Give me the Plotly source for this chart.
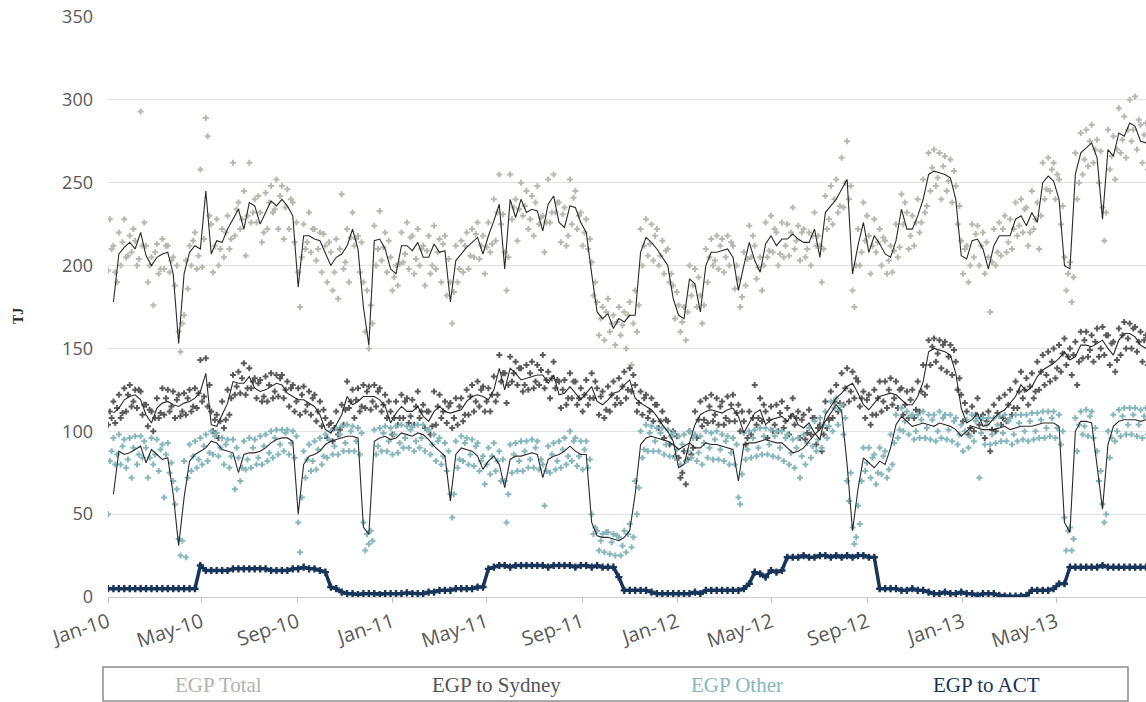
import pandas as pd
import plotly.graph_objects as go

# ---------------- data ----------------
START, END, N = "2010-01-01", "2013-08-24", 192

total_line = [
    None, 178, 207, 211, 214, 210, 220, 206, 200, 205,
    207, 208, 195, 153, 195, 208, 212, 210, 245, 207,
    215, 214, 222, 228, 234, 222, 238, 236, 225, 232,
    239, 236, 240, 236, 230, 187, 218, 218, 216, 215,
    208, 200, 205, 207, 212, 222, 210, 175, 152, 215,
    216, 210, 198, 195, 212, 212, 209, 214, 205, 205,
    213, 208, 209, 178, 203, 207, 211, 214, 217, 207,
    218, 227, 237, 198, 240, 229, 240, 232, 234, 233,
    221, 237, 242, 226, 223, 236, 235, 226, 220, 195,
    172, 168, 171, 162, 168, 166, 170, 170, 208, 217,
    214, 210, 205, 200, 180, 170, 168, 192, 189, 172,
    200, 208, 208, 209, 210, 205, 185, 200, 214, 203,
    196, 213, 218, 212, 216, 216, 219, 216, 214, 214,
    222, 205, 232, 236, 240, 246, 252, 195, 212, 226,
    208, 218, 213, 207, 205, 215, 234, 222, 222, 230,
    240, 255, 257, 256, 255, 253, 240, 206, 204, 215,
    216, 210, 198, 212, 218, 218, 218, 228, 230, 224,
    232, 226, 250, 254, 251, 240, 200, 198, 255, 268,
    271, 274, 265, 228, 270, 266, 280, 278, 286, 284,
    275, 274]
total_pts_a = [
    197, 212, 220, 228, 218, 215, 293, 212, 205, 213,
    216, 212, 205, 160, 170, 212, 220, 258, 289, 225,
    228, 222, 230, 262, 238, 245, 262, 240, 232, 244,
    248, 252, 248, 246, 238, 196, 225, 232, 222, 220,
    212, 208, 216, 243, 222, 232, 218, 190, 150, 224,
    233, 220, 205, 200, 220, 226, 218, 222, 212, 218,
    224, 216, 218, 190, 212, 215, 220, 222, 226, 218,
    226, 240, 255, 208, 255, 240, 250, 245, 242, 248,
    230, 252, 255, 238, 235, 252, 245, 232, 228, 202,
    178, 175, 180, 170, 175, 172, 178, 185, 222, 228,
    225, 222, 215, 210, 188, 176, 175, 200, 198, 182,
    210, 216, 218, 216, 218, 212, 192, 208, 224, 212,
    205, 226, 230, 220, 226, 225, 235, 224, 222, 220,
    232, 212, 242, 248, 252, 265, 275, 185, 222, 238,
    218, 228, 222, 215, 212, 225, 243, 232, 230, 240,
    252, 268, 270, 268, 266, 264, 248, 215, 212, 225,
    224, 220, 205, 222, 226, 230, 228, 238, 240, 235,
    245, 238, 262, 265, 262, 252, 205, 202, 268, 280,
    282, 285, 276, 235, 282, 278, 295, 290, 300, 302,
    285, 286]
total_pts_b = [
    228, 196, 200, 205, 208, 200, 212, 190, 176, 195,
    198, 196, 188, 148, 203, 200, 198, 199, 278, 196,
    200, 205, 210, 218, 222, 206, 226, 226, 214, 222,
    232, 222, 216, 222, 214, 175, 210, 208, 203, 196,
    190, 185, 180, 198, 190, 212, 196, 160, 176, 200,
    203, 196, 185, 188, 202, 198, 195, 200, 188, 195,
    198, 190, 182, 165, 190, 196, 198, 205, 204, 195,
    208, 215, 225, 185, 228, 215, 230, 222, 218, 225,
    208, 226, 232, 214, 212, 225, 222, 212, 210, 182,
    158, 155, 160, 152, 158, 150, 140, 160, 200, 206,
    203, 200, 195, 190, 168, 160, 155, 182, 175, 165,
    190, 200, 198, 196, 200, 186, 175, 188, 205, 192,
    185, 205, 208, 200, 205, 206, 210, 203, 205, 200,
    212, 190, 222, 225, 232, 235, 240, 175, 200, 215,
    195, 208, 200, 195, 196, 205, 225, 210, 212, 220,
    232, 245, 248, 240, 245, 238, 225, 195, 190, 205,
    200, 195, 172, 200, 206, 208, 210, 218, 220, 212,
    222, 210, 240, 245, 240, 225, 185, 178, 240, 255,
    260, 262, 250, 215, 258, 252, 268, 265, 275, 270,
    262, 258]
total_pts_c = [
    210, 190, 214, 206, 222, 204, 226, 200, 208, 198,
    212, 203, 200, 165, 186, 215, 206, 216, 230, 212,
    210, 220, 216, 234, 228, 230, 232, 242, 220, 238,
    234, 242, 235, 240, 226, 205, 214, 222, 210, 219,
    214, 196, 210, 202, 217, 216, 214, 185, 165, 210,
    211, 215, 193, 201, 207, 217, 204, 210, 209, 200,
    208, 213, 204, 184, 198, 212, 206, 219, 212, 211,
    213, 232, 231, 205, 235, 234, 236, 228, 238, 229,
    226, 232, 238, 231, 218, 241, 230, 220, 216, 190,
    168, 172, 165, 166, 164, 170, 165, 176, 212, 213,
    218, 206, 209, 195, 184, 166, 172, 188, 193, 176,
    205, 203, 212, 205, 214, 200, 181, 204, 218, 199,
    200, 209, 222, 207, 212, 220, 215, 220, 210, 218,
    218, 210, 228, 240, 236, 250, 248, 200, 208, 230,
    212, 214, 217, 203, 209, 211, 238, 218, 226, 226,
    236, 259, 253, 260, 251, 257, 236, 210, 200, 219,
    212, 214, 202, 208, 222, 214, 222, 224, 234, 220,
    228, 230, 246, 258, 255, 236, 195, 193, 250, 264,
    275, 270, 269, 232, 266, 270, 276, 282, 282, 288,
    279, 270]

sydney_line = [
    None, 111, 114, 119, 121, 122, 119, 110, 105, 114,
    117, 118, 116, 115, 117, 118, 120, 124, 135, 104,
    103, 110, 117, 130, 129, 129, 133, 126, 124, 125,
    127, 129, 128, 123, 121, 119, 119, 117, 115, 110,
    101, 99, 104, 110, 121, 116, 118, 121, 121, 121,
    119, 115, 105, 111, 115, 112, 112, 115, 109, 106,
    112, 115, 112, 111, 112, 113, 118, 121, 122, 121,
    119, 125, 138, 125, 138, 135, 131, 132, 133, 134,
    134, 129, 134, 122, 123, 127, 123, 119, 123, 127,
    118, 116, 119, 123, 124, 128, 131, 120, 117, 115,
    113, 109, 104, 100, 94, 78, 80, 93, 104, 110,
    112, 113, 112, 111, 113, 114, 109, 99, 105, 111,
    113, 104, 107, 108, 109, 106, 111, 104, 102, 105,
    99, 95, 110, 115, 120, 123, 127, 129, 123, 116,
    113, 117, 121, 122, 123, 122, 119, 116, 116, 121,
    130, 148, 150, 149, 148, 146, 135, 114, 105, 107,
    111, 103, 104, 108, 111, 113, 117, 121, 128, 124,
    127, 133, 137, 139, 141, 144, 148, 143, 145, 152,
    152, 151, 153, 155, 150, 146, 155, 159, 159, 157,
    152, 150]
sydney_pts_a = [
    104, 118, 122, 126, 128, 125, 124, 116, 112, 120,
    126, 125, 124, 122, 123, 125, 126, 143, 144, 112,
    110, 118, 125, 134, 136, 141, 138, 132, 131, 133,
    135, 134, 134, 130, 128, 126, 127, 124, 122, 118,
    108, 105, 112, 116, 130, 125, 126, 128, 127, 128,
    126, 122, 112, 118, 122, 120, 119, 124, 116, 112,
    124, 122, 118, 117, 120, 120, 125, 128, 130, 127,
    126, 133, 146, 135, 145, 142, 138, 140, 142, 140,
    146, 136, 142, 130, 131, 135, 130, 126, 131, 135,
    126, 124, 127, 130, 132, 136, 138, 128, 124, 122,
    120, 116, 112, 106, 100, 84, 88, 100, 112, 118,
    120, 122, 120, 118, 121, 122, 116, 106, 112, 128,
    120, 112, 115, 116, 118, 114, 120, 112, 110, 113,
    108, 104, 118, 124, 128, 135, 138, 136, 130, 124,
    122, 125, 130, 130, 132, 130, 126, 124, 125, 130,
    140, 155, 156, 155, 154, 152, 142, 122, 112, 115,
    120, 110, 112, 116, 120, 122, 125, 130, 136, 132,
    135, 142, 146, 148, 150, 152, 156, 150, 154, 160,
    160, 158, 162, 163, 158, 154, 162, 166, 165, 163,
    160, 158]
sydney_pts_b = [
    112, 105, 108, 112, 115, 114, 110, 103, 100, 108,
    110, 112, 108, 109, 110, 112, 114, 118, 115, 100,
    96, 102, 110, 122, 123, 122, 126, 120, 118, 118,
    120, 121, 120, 115, 112, 110, 112, 110, 106, 103,
    96, 94, 98, 104, 114, 108, 112, 114, 113, 115,
    112, 108, 98, 104, 108, 105, 104, 108, 102, 98,
    104, 108, 105, 102, 104, 106, 110, 112, 115, 112,
    112, 118, 130, 117, 130, 128, 124, 125, 126, 128,
    126, 120, 126, 114, 116, 120, 116, 112, 116, 120,
    110, 108, 112, 116, 117, 120, 124, 112, 110, 108,
    106, 102, 96, 92, 85, 72, 68, 86, 96, 103,
    105, 106, 104, 104, 106, 106, 100, 92, 98, 104,
    106, 96, 100, 100, 102, 98, 104, 96, 95, 98,
    92, 88, 102, 108, 112, 116, 118, 120, 115, 108,
    104, 110, 112, 114, 116, 114, 110, 108, 108, 112,
    122, 140, 142, 138, 136, 134, 125, 106, 98, 100,
    104, 96, 88, 100, 104, 106, 110, 114, 120, 116,
    120, 125, 128, 130, 132, 136, 140, 134, 128, 144,
    145, 142, 145, 146, 140, 136, 146, 150, 150, 148,
    142, 140]
sydney_pts_c = [
    108, 114, 111, 122, 118, 125, 116, 113, 108, 111,
    120, 115, 119, 112, 120, 115, 123, 121, 128, 107,
    106, 107, 120, 127, 132, 126, 130, 129, 121, 128,
    124, 132, 125, 126, 118, 122, 116, 120, 112, 113,
    104, 102, 101, 113, 118, 119, 115, 124, 118, 124,
    116, 118, 108, 108, 118, 109, 115, 112, 112, 103,
    115, 112, 115, 108, 115, 110, 121, 118, 125, 118,
    122, 122, 135, 128, 135, 138, 128, 135, 130, 137,
    131, 132, 131, 125, 120, 130, 120, 122, 120, 130,
    121, 113, 122, 120, 127, 125, 134, 117, 120, 112,
    116, 106, 107, 97, 97, 75, 83, 90, 107, 107,
    115, 110, 115, 108, 116, 111, 112, 96, 108, 108,
    116, 107, 104, 111, 106, 109, 108, 107, 99, 108,
    102, 98, 107, 118, 117, 126, 124, 132, 120, 119,
    110, 120, 118, 125, 120, 125, 116, 119, 113, 124,
    127, 151, 147, 152, 145, 149, 132, 117, 102, 110,
    108, 106, 101, 111, 108, 116, 114, 124, 125, 127,
    124, 136, 134, 142, 138, 147, 145, 146, 142, 155,
    149, 154, 150, 158, 153, 143, 158, 156, 162, 154,
    155, 147]

other_line = [
    None, 62, 88, 86, 87, 89, 91, 81, 89, 86,
    83, 84, 62, 31, 60, 82, 86, 88, 90, 94,
    93, 89, 88, 87, 75, 86, 87, 87, 88, 90,
    93, 95, 96, 96, 94, 50, 80, 85, 86, 88,
    92, 94, 95, 96, 97, 97, 96, 42, 38, 94,
    96, 97, 95, 96, 99, 98, 97, 99, 98, 95,
    91, 88, 85, 58, 86, 90, 89, 88, 85, 77,
    82, 85, 80, 66, 83, 85, 85, 86, 87, 86,
    72, 83, 85, 86, 88, 91, 88, 86, 86, 45,
    37, 36, 36, 35, 34, 36, 40, 62, 92, 96,
    97, 96, 95, 94, 92, 89, 91, 93, 90, 90,
    93, 92, 92, 91, 90, 89, 70, 92, 93, 93,
    94, 95, 94, 93, 93, 90, 87, 88, 90, 94,
    98, 101, 106, 111, 116, 112, 80, 40, 65, 84,
    81, 78, 82, 80, 90, 104, 109, 106, 103, 104,
    105, 104, 103, 105, 104, 103, 101, 97, 100, 103,
    102, 101, 101, 101, 102, 103, 101, 102, 103, 103,
    103, 104, 105, 105, 105, 103, 45, 39, 100, 106,
    106, 105, 80, 53, 92, 103, 106, 107, 107, 107,
    106, 107]
other_pts_a = [
    50, 96, 98, 95, 96, 97, 97, 90, 96, 95,
    92, 93, 70, 35, 82, 92, 94, 96, 98, 100,
    99, 96, 95, 95, 84, 94, 96, 95, 97, 98,
    100, 101, 101, 101, 100, 45, 88, 92, 94, 96,
    98, 100, 102, 103, 104, 103, 102, 45, 32, 101,
    102, 103, 102, 103, 104, 103, 103, 104, 104, 101,
    98, 96, 93, 62, 94, 97, 96, 95, 93, 85,
    90, 93, 88, 70, 92, 93, 94, 94, 95, 94,
    80, 91, 93, 94, 96, 100, 96, 94, 94, 50,
    40, 38, 39, 38, 36, 40, 44, 70, 100, 104,
    103, 102, 102, 101, 99, 97, 98, 100, 98, 97,
    100, 99, 100, 98, 97, 96, 60, 99, 100, 101,
    102, 102, 101, 100, 100, 98, 95, 96, 98, 102,
    106, 108, 112, 118, 120, 116, 70, 42, 55, 90,
    90, 86, 90, 88, 98, 110, 114, 112, 110, 110,
    112, 110, 110, 112, 110, 110, 108, 104, 107, 110,
    108, 108, 108, 108, 109, 110, 108, 110, 110, 110,
    111, 111, 112, 112, 112, 110, 48, 42, 108, 112,
    113, 112, 88, 56, 100, 110, 113, 114, 114, 114,
    113, 114]
other_pts_b = [
    82, 80, 80, 78, 72, 80, 84, 72, 80, 76,
    60, 75, 56, 25, 24, 76, 78, 80, 82, 86,
    85, 80, 78, 65, 70, 77, 78, 80, 80, 82,
    84, 86, 88, 86, 84, 27, 72, 76, 77, 80,
    84, 86, 86, 88, 88, 88, 86, 28, 40, 86,
    88, 88, 86, 87, 90, 90, 88, 90, 88, 86,
    82, 80, 76, 48, 78, 82, 80, 79, 76, 68,
    74, 76, 70, 45, 75, 76, 76, 78, 78, 77,
    55, 75, 77, 78, 80, 82, 79, 77, 78, 38,
    28, 27, 26, 25, 25, 27, 30, 50, 84, 88,
    88, 88, 86, 85, 84, 80, 82, 84, 82, 80,
    84, 83, 83, 82, 80, 80, 56, 83, 84, 85,
    86, 86, 85, 84, 82, 80, 78, 72, 80, 84,
    88, 90, 96, 100, 104, 98, 58, 32, 44, 76,
    72, 68, 74, 72, 80, 96, 100, 98, 95, 96,
    96, 95, 94, 96, 95, 94, 92, 88, 90, 94,
    72, 92, 92, 93, 94, 94, 92, 94, 95, 94,
    95, 96, 96, 97, 96, 92, 28, 28, 88, 98,
    97, 96, 70, 45, 84, 94, 97, 98, 98, 97,
    96, 98]
other_pts_c = [
    88, 86, 91, 83, 90, 86, 94, 84, 86, 89,
    86, 81, 65, 34, 72, 85, 83, 91, 87, 97,
    90, 92, 85, 90, 78, 83, 90, 84, 91, 87,
    96, 92, 99, 93, 97, 60, 83, 82, 89, 85,
    95, 91, 98, 93, 100, 94, 99, 38, 34, 91,
    99, 94, 98, 93, 96, 101, 94, 96, 101, 92,
    94, 85, 88, 62, 83, 93, 86, 91, 82, 80,
    85, 82, 83, 62, 86, 82, 88, 83, 90, 83,
    76, 86, 82, 89, 85, 94, 85, 89, 83, 42,
    34, 39, 33, 37, 31, 38, 36, 66, 89, 99,
    94, 99, 92, 97, 89, 92, 88, 96, 87, 93,
    90, 95, 89, 94, 87, 92, 74, 89, 96, 90,
    97, 92, 97, 90, 96, 87, 90, 85, 93, 91,
    95, 104, 103, 114, 113, 108, 75, 36, 70, 81,
    84, 75, 85, 77, 93, 101, 106, 109, 100, 107,
    102, 107, 100, 108, 101, 106, 98, 100, 97, 106,
    99, 104, 98, 104, 99, 106, 98, 105, 100, 106,
    100, 107, 102, 108, 102, 100, 40, 35, 104, 103,
    109, 102, 76, 50, 96, 100, 109, 104, 110, 104,
    109, 104]

act_values = [
    5, 5, 5, 5, 5, 5, 5, 5, 5, 5,
    5, 5, 5, 5, 5, 5, 5, 19, 16, 16,
    16, 16, 16, 17, 17, 17, 17, 17, 17, 17,
    16, 16, 16, 16, 17, 17, 18, 17, 17, 16,
    15, 6, 5, 3, 2, 2, 1.5, 2, 2, 2,
    1.5, 2, 2, 2, 2, 2.5, 2, 2, 2, 3,
    3, 4, 4, 4, 5, 5, 5, 5, 6, 6,
    17, 18, 19, 19, 18, 19, 19, 19, 19, 19,
    19, 18, 19, 19, 19, 19, 18, 19, 19, 18,
    19, 18, 18, 18, 12, 4, 4, 4, 4, 4,
    3, 2, 2, 2, 2, 2, 2, 2, 3, 2,
    4, 4, 4, 4, 4, 4, 4, 5, 8, 15,
    14, 12, 16, 15, 16, 24, 24, 24, 25, 24,
    24, 25, 25, 24, 25, 24, 25, 24, 25, 25,
    24, 24, 5, 5, 5, 5, 4, 4, 5, 4,
    4, 3, 2, 2, 3, 2, 2, 3, 2, 2,
    1, 2, 2, 2, 1, 0.5, 0.5, 0.5, 0.5, 1,
    4, 4, 4, 4, 5, 8, 8, 18, 18, 18,
    18, 18, 18, 19, 18, 18, 18, 18, 18, 18,
    18, 18]

tick_dates = ["2010-01-01", "2010-05-01", "2010-09-01", "2011-01-01", "2011-05-01",
              "2011-09-01", "2012-01-01", "2012-05-01", "2012-09-01", "2013-01-01",
              "2013-05-01"]
tick_labels = ["Jan-10", "May-10", "Sep-10", "Jan-11", "May-11", "Sep-11",
               "Jan-12", "May-12", "Sep-12", "Jan-13", "May-13"]
y_ticks = [0, 50, 100, 150, 200, 250, 300, 350]

legend_names = ["EGP Total", "EGP to Sydney", "EGP Other", "EGP to ACT"]
legend_colors = ["#b3b3ad", "#555555", "#86b7bb", "#17345a"]
legend_x_px = [218, 496, 737, 986]

# ---------------- figure ----------------
dates = pd.date_range(START, END, periods=N)
dates_b = dates + pd.Timedelta(hours=56)
dates_c = dates + pd.Timedelta(hours=112)
three = list(dates) + list(dates_b) + list(dates_c)

FW, FH = 1146, 702
PL, PR, PT, PB = 108, 1146, 17, 597     # plot area in px
W = PR - PL
H = PB - PT

def px_x(x):
    return (x - PL) / W

def px_y(y):
    return (PB - y) / H

def mk(y, color, size=5):
    return go.Scatter(x=three, y=y, mode="markers", hoverinfo="skip",
                      marker=dict(symbol="cross", size=size, color=color,
                                  line=dict(width=0)))

fig = go.Figure()
fig.add_trace(mk(total_pts_a + total_pts_b + total_pts_c, "#b8b8b0"))
fig.add_trace(mk(sydney_pts_a + sydney_pts_b + sydney_pts_c, "#5a5a5a"))
fig.add_trace(mk(other_pts_a + other_pts_b + other_pts_c, "#86b7bb"))
fig.add_trace(go.Scatter(x=dates, y=act_values, mode="lines+markers",
                         line=dict(color="#17345a", width=3.5),
                         marker=dict(symbol="cross", size=6, color="#17345a"),
                         hoverinfo="skip"))
for series in (total_line, sydney_line, other_line):
    fig.add_trace(go.Scatter(x=dates, y=series, mode="lines",
                             line=dict(color="#2a2a2a", width=1.1),
                             hoverinfo="skip", connectgaps=False))

shapes = [dict(type="rect", xref="paper", yref="paper",
               x0=px_x(103), x1=px_x(1128), y0=px_y(701), y1=px_y(667),
               line=dict(color="#8c8c8c", width=1.5), fillcolor="rgba(0,0,0,0)")]

annotations = [dict(text="<b>TJ</b>", xref="paper", yref="paper",
                    x=px_x(18), y=px_y(316), showarrow=False,
                    textangle=-90, xanchor="center", yanchor="middle",
                    font=dict(family="Liberation Serif", size=14, color="#222222"))]
for name, color, px in zip(legend_names, legend_colors, legend_x_px):
    annotations.append(dict(text=name, xref="paper", yref="paper",
                            x=px_x(px), y=px_y(685), showarrow=False,
                            xanchor="center", yanchor="middle",
                            font=dict(family="Liberation Serif", size=21, color=color)))

fig.update_layout(
    width=FW, height=FH,
    margin=dict(l=PL, r=FW - PR, t=PT, b=FH - PB, autoexpand=False),
    paper_bgcolor="white", plot_bgcolor="white",
    showlegend=False,
    shapes=shapes, annotations=annotations,
    xaxis=dict(type="date", range=[START, END],
               tickvals=tick_dates, ticktext=tick_labels, tickangle=-18,
               ticks="outside", ticklen=5, tickcolor="#bfbfbf",
               showline=True, linecolor="#cfcfcf", linewidth=1,
               showgrid=False, zeroline=False,
               tickfont=dict(family="Open Sans", size=20, color="#595959")),
    yaxis=dict(range=[0, 350], tickmode="array", tickvals=y_ticks,
               showgrid=True, gridcolor="#e3e3e3",
               gridwidth=1, zeroline=False, showline=False, ticks="",
               ticklabelstandoff=14, ticklabeloverflow="allow",
               tickfont=dict(family="Open Sans", size=18, color="#595959")),
)

# remove the browser's default 8px page margin so the figure fills the window
fig.write_html("out.html", config={"displayModeBar": False},
               post_script="document.body.style.margin='0px';")
